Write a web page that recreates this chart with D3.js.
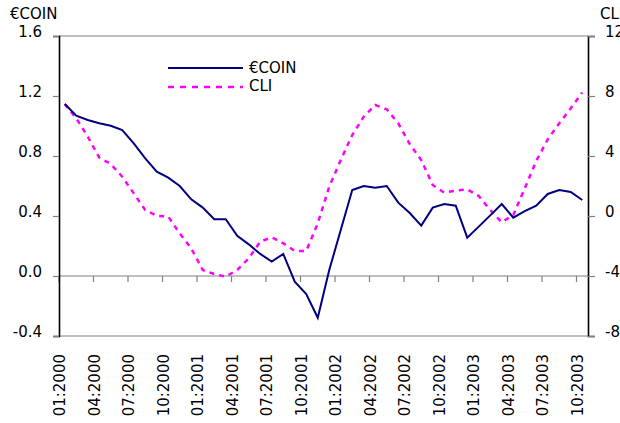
<!DOCTYPE html>
<html>
<head>
<meta charset="utf-8">
<script src="https://cdn.jsdelivr.net/npm/d3@7"></script>
<style>
  body { margin: 0; background: #fff; }
  text { font-family: "DejaVu Sans", Verdana, sans-serif; font-size: 15px; fill: #000; }
</style>
</head>
<body>
<div id="chart"></div>
<script>
// monthly, 01:2000 .. 10:2003
const months = [];
for (let yr = 2000; yr <= 2003; yr++) {
  for (let m = 1; m <= 12; m++) {
    if (yr === 2003 && m > 10) break;
    months.push((m < 10 ? "0" + m : "" + m) + ":" + yr);
  }
}

const coin = [1.147, 1.069, 1.04, 1.018, 1.002, 0.973, 0.884, 0.784, 0.696, 0.656,
  0.60, 0.511, 0.456, 0.378, 0.378, 0.268, 0.211, 0.147, 0.096, 0.147,
  -0.038, -0.12, -0.278, 0.04, 0.307, 0.573, 0.60, 0.589, 0.60, 0.489,
  0.42, 0.336, 0.456, 0.48, 0.469, 0.256, 0.329, 0.404, 0.48, 0.389,
  0.433, 0.469, 0.547, 0.573, 0.56, 0.507];

const cli = [7.47, 6.51, 5.29, 3.89, 3.47, 2.62, 1.51, 0.4, 0.02, -0.04,
  -1.16, -2.16, -3.6, -3.87, -4.04, -3.6, -2.82, -1.71, -1.42, -1.82,
  -2.33, -2.33, -0.49, 1.96, 3.73, 5.4, 6.62, 7.4, 7.11, 6.18,
  4.8, 3.73, 2.07, 1.56, 1.69, 1.78, 1.33, 0.4, -0.42, 0.07,
  1.84, 3.67, 5.11, 6.18, 7.18, 8.24];

const leftTicks = [1.6, 1.2, 0.8, 0.4, 0.0, -0.4];
const rightTicks = [12, 8, 4, 0, -4, -8];
const xLabels = months.filter((d, i) => i % 3 === 0);

const width = 620, height = 423;
const margin = { left: 59, right: 588, top: 36, bottom: 336 };

const svg = d3.select("#chart").append("svg")
  .attr("width", width)
  .attr("height", height);

const x = d3.scaleBand().domain(months).range([margin.left, margin.right]).padding(0);
const yL = d3.scaleLinear().domain([-0.4, 1.6]).range([margin.bottom, margin.top]);
const yR = d3.scaleLinear().domain([-8, 12]).range([margin.bottom, margin.top]);
const cx = d => x(d) + x.bandwidth() / 2;

// plot frame top / bottom and zero line
svg.append("g").selectAll("line")
  .data([1.6, 0.0, -0.4])
  .enter().append("line")
  .attr("x1", margin.left).attr("x2", margin.right)
  .attr("y1", d => yL(d)).attr("y2", d => yL(d))
  .attr("stroke", "#808080").attr("stroke-width", 1.2);

// x ticks on the zero line
svg.append("g").selectAll("line")
  .data(xLabels)
  .enter().append("line")
  .attr("x1", d => x(d)).attr("x2", d => x(d))
  .attr("y1", yL(0)).attr("y2", yL(0) + 6)
  .attr("stroke", "#808080").attr("stroke-width", 1.2);

// left axis
const axL = svg.append("g")
  .attr("transform", `translate(${margin.left},0)`)
  .call(d3.axisLeft(yL).tickValues(leftTicks).tickSize(6).tickPadding(11)
    .tickFormat(d => d.toFixed(1)));
axL.select(".domain").attr("stroke", "#000").attr("stroke-width", 1.6);
axL.selectAll(".tick line").attr("stroke", "#808080").attr("stroke-width", 1.2);
axL.selectAll(".tick text").attr("dy", "0").style("font-size", "15px")
  .style("font-family", "'DejaVu Sans', sans-serif");

// right axis
const axR = svg.append("g")
  .attr("transform", `translate(${margin.right},0)`)
  .call(d3.axisRight(yR).tickValues(rightTicks).tickSize(7).tickPadding(10)
    .tickFormat(d => String(d)));
axR.select(".domain").attr("stroke", "#000").attr("stroke-width", 1.6);
axR.selectAll(".tick line").attr("stroke", "#808080").attr("stroke-width", 1.2);
axR.selectAll(".tick text").attr("dy", "0").style("font-size", "15px")
  .style("font-family", "'DejaVu Sans', sans-serif");

// x labels, rotated
svg.append("g").selectAll("text")
  .data(xLabels)
  .enter().append("text")
  .attr("transform", d => `translate(${x(d) + 1},354) rotate(-90)`)
  .attr("text-anchor", "end")
  .attr("dy", "0.35em")
  .text(d => d);

// axis titles
svg.append("text").attr("x", 10).attr("y", 19).text("€COIN");
svg.append("text").attr("x", 600).attr("y", 19).text("CLI");

// series
const lineCli = d3.line().x((d, i) => cx(months[i])).y(d => yR(d));
const lineCoin = d3.line().x((d, i) => cx(months[i])).y(d => yL(d));

svg.append("path").datum(cli)
  .attr("d", lineCli)
  .attr("fill", "none")
  .attr("stroke", "#ff00ff")
  .attr("stroke-width", 2.5)
  .attr("stroke-dasharray", "5,5");

svg.append("path").datum(coin)
  .attr("d", lineCoin)
  .attr("fill", "none")
  .attr("stroke", "#000080")
  .attr("stroke-width", 2);

// legend
const legend = svg.append("g");
legend.append("line")
  .attr("x1", 168).attr("x2", 243).attr("y1", 68).attr("y2", 68)
  .attr("stroke", "#000080").attr("stroke-width", 2);
legend.append("text").attr("x", 249).attr("y", 73).text("€COIN");
legend.append("line")
  .attr("x1", 168).attr("x2", 243).attr("y1", 87).attr("y2", 87)
  .attr("stroke", "#ff00ff").attr("stroke-width", 2.5)
  .attr("stroke-dasharray", "6,6");
legend.append("text").attr("x", 249).attr("y", 91).text("CLI");
</script>
</body>
</html>
